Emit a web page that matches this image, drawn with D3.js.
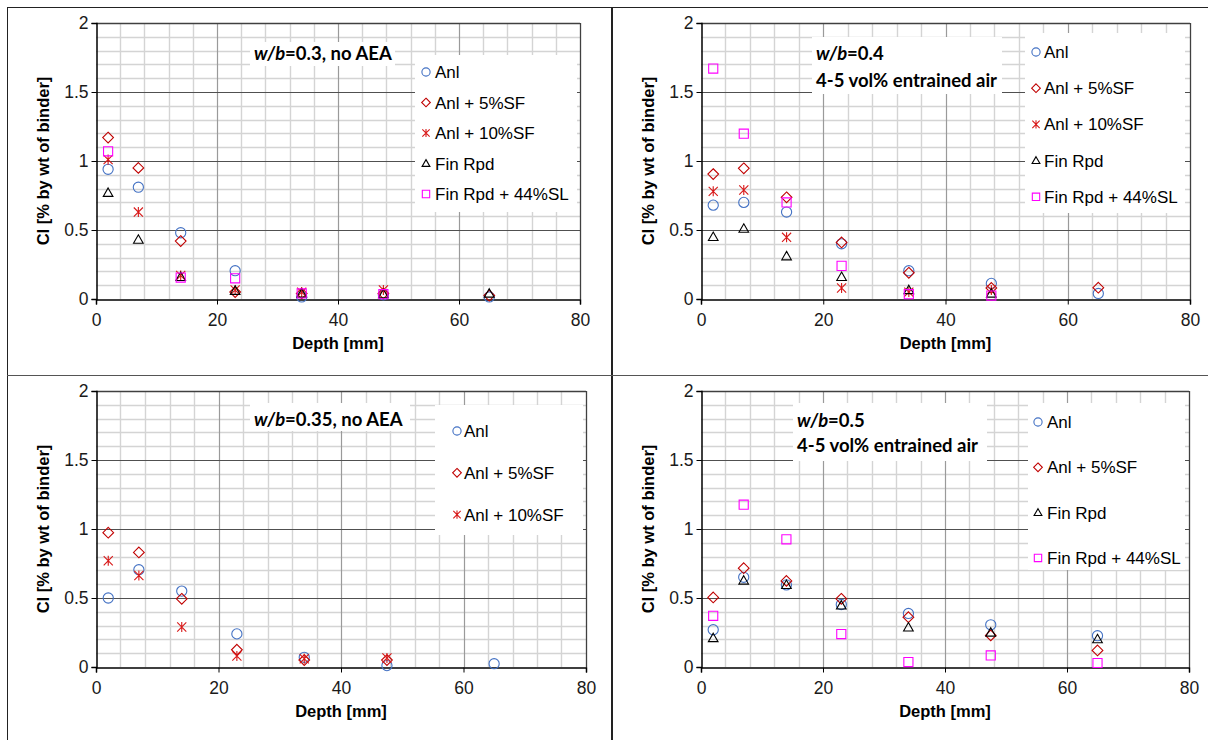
<!DOCTYPE html>
<html>
<head>
<meta charset="utf-8">
<script src="https://cdn.jsdelivr.net/npm/d3@7"></script>
<style>
  body { margin: 0; background: #fff; }
  svg { display: block; }
  .tick text { font-family: "Liberation Sans", Arial, sans-serif; font-size: 17.5px; fill: #1a1a1a; }
  .axis-title { font-family: "Liberation Sans", Arial, sans-serif; font-size: 16.5px; font-weight: bold; fill: #000; }
  .legend text { font-family: "Liberation Sans", Arial, sans-serif; font-size: 17px; fill: #000; }
  .note { font-family: Lato, "Open Sans", sans-serif; font-size: 18.5px; font-weight: bold; fill: #000; }
</style>
</head>
<body>
<svg id="chart" width="1208" height="740"></svg>
<script>
// depths (mm) shared by every panel
const depth = [2, 7, 14, 23, 34, 47.5, 65];
const seriesNames = ["Anl", "Anl + 5%SF", "Anl + 10%SF", "Fin Rpd", "Fin Rpd + 44%SL"];
const xTicks = [0, 20, 40, 60, 80];
const yTicks = [0, 0.5, 1, 1.5, 2];
const yTickLabels = ["0", "0.5", "1", "1.5", "2"];

// w/b=0.3, no AEA
const wb03Anl    = [0.94, 0.81, 0.48, 0.205, 0.015, 0.03, 0.015];
const wb03Sf5    = [1.17, 0.95, 0.42, 0.05, 0.04, 0.04, 0.025];
const wb03Sf10   = [1.01, 0.63, 0.17, 0.065, 0.05, 0.065, null];
const wb03Fin    = [0.77, 0.43, 0.16, 0.06, 0.04, 0.035, 0.04];
const wb03FinSl  = [1.07, null, 0.155, 0.15, 0.04, 0.035, null];

// w/b=0.4, 4-5 vol% entrained air
const wb04Anl    = [0.68, 0.70, 0.63, 0.40, 0.205, 0.113, 0.04];
const wb04Sf5    = [0.905, 0.947, 0.737, 0.41, 0.19, 0.08, 0.082];
const wb04Sf10   = [0.78, 0.79, 0.447, 0.08, 0.05, 0.065, null];
const wb04Fin    = [0.45, 0.51, 0.31, 0.16, 0.065, 0.04, null];
const wb04FinSl  = [1.67, 1.198, 0.70, 0.24, 0.035, 0.025, null];

// w/b=0.35, no AEA
const wb035Anl   = [0.50, 0.705, 0.55, 0.24, 0.07, 0.01, 0.024];
const wb035Sf5   = [0.973, 0.83, 0.494, 0.125, 0.05, 0.05, null];
const wb035Sf10  = [0.77, 0.663, 0.29, 0.08, 0.06, 0.065, null];

// w/b=0.5, 4-5 vol% entrained air
const wb05Anl    = [0.27, 0.65, 0.595, 0.453, 0.388, 0.306, 0.227];
const wb05Sf5    = [0.504, 0.716, 0.624, 0.494, 0.361, 0.229, 0.12];
const wb05Fin    = [0.21, 0.627, 0.595, 0.446, 0.287, 0.25, 0.202];
const wb05FinSl  = [0.371, 1.176, 0.925, 0.239, 0.036, 0.084, 0.029];

// marker shapes (excel-like)
const diamond = { draw(c, s) { const r = Math.sqrt(s) / 2; c.moveTo(0, -r); c.lineTo(r, 0); c.lineTo(0, r); c.lineTo(-r, 0); c.closePath(); } };
const square = { draw(c, s) { const r = Math.sqrt(s) / 2 * 0.85; c.rect(-r, -r, 2 * r, 2 * r); } };
const triangle = { draw(c, s) { const r = Math.sqrt(s) / 2 * 0.9; c.moveTo(0, -r); c.lineTo(r, r * 0.75); c.lineTo(-r, r * 0.75); c.closePath(); } };
const asterisk = { draw(c, s) { const r = Math.sqrt(s) / 2 * 0.85; c.moveTo(-r, -r); c.lineTo(r, r); c.moveTo(r, -r); c.lineTo(-r, r); c.moveTo(0, -r * 1.1); c.lineTo(0, r * 1.1); } };
const circle = { draw(c, s) { const r = Math.sqrt(s) / 2 * 0.95; c.moveTo(r, 0); c.arc(0, 0, r, 0, 2 * Math.PI); } };

const styles = {
  "Anl": { type: circle, color: "#4472C4" },
  "Anl + 5%SF": { type: diamond, color: "#C00000" },
  "Anl + 10%SF": { type: asterisk, color: "#D81818" },
  "Fin Rpd": { type: triangle, color: "#000000" },
  "Fin Rpd + 44%SL": { type: square, color: "#FF00FF" }
};

const svg = d3.select("#chart");

// table borders
const border = svg.append("g").attr("stroke", "#222").attr("fill", "none");
border.append("line").attr("x1", 7).attr("x2", 1208).attr("y1", 7.5).attr("y2", 7.5);
border.append("line").attr("x1", 7.5).attr("x2", 7.5).attr("y1", 7).attr("y2", 740);
border.append("line").attr("x1", 612).attr("x2", 612).attr("y1", 7).attr("y2", 740).attr("stroke-width", 2);
border.append("line").attr("x1", 7).attr("x2", 1208).attr("y1", 375.5).attr("y2", 375.5).attr("stroke", "#555");

function drawPanel(p) {
  const x = d3.scaleLinear().domain([0, 80]).range([p.left, p.right]);
  const y = d3.scaleLinear().domain([0, 2]).range([p.bottom, p.top]);
  const g = svg.append("g");

  // minor grid
  const grid = g.append("g").attr("fill", "none");
  d3.range(4, 80, 4).filter(v => v % 20 !== 0).forEach(v => {
    grid.append("line").attr("x1", Math.round(x(v)) + 0.5).attr("x2", Math.round(x(v)) + 0.5)
      .attr("y1", p.top).attr("y2", p.bottom).attr("stroke", "#D4D4D4").attr("stroke-width", 1.4);
  });
  d3.range(1, 20).filter(i => i % 5 !== 0).forEach(i => {
    const yy = Math.round(y(i / 10)) + 0.5;
    grid.append("line").attr("x1", p.left).attr("x2", p.right).attr("y1", yy).attr("y2", yy)
      .attr("stroke", "#D4D4D4").attr("stroke-width", 1.4);
  });
  // major grid
  [20, 40, 60].forEach(v => {
    grid.append("line").attr("x1", Math.round(x(v)) + 0.5).attr("x2", Math.round(x(v)) + 0.5)
      .attr("y1", p.top).attr("y2", p.bottom).attr("stroke", "#9A9A9A").attr("stroke-width", 1.2);
  });
  [0.5, 1, 1.5].forEach(v => {
    const yy = Math.round(y(v)) + 0.5;
    grid.append("line").attr("x1", p.left).attr("x2", p.right).attr("y1", yy).attr("y2", yy)
      .attr("stroke", "#505050").attr("stroke-width", 1.2);
  });
  grid.append("line").attr("x1", p.left).attr("x2", p.right).attr("y1", p.top + 0.5).attr("y2", p.top + 0.5).attr("stroke", "#404040").attr("stroke-width", 1.3);
  grid.append("line").attr("x1", p.right + 0.5).attr("x2", p.right + 0.5).attr("y1", p.top).attr("y2", p.bottom).attr("stroke", "#404040").attr("stroke-width", 1.3);

  // annotation box
  const note = g.append("g");
  note.append("rect").attr("x", p.note.x).attr("y", p.note.y).attr("width", p.note.w).attr("height", p.note.h).attr("fill", "#fff");
  p.note.lines.forEach((ln, i) => {
    const t = note.append("text").attr("class", "note").attr("x", p.note.tx).attr("y", p.note.ty[i]);
    ln.forEach(part => t.append("tspan").attr("font-style", part.it ? "italic" : "normal").text(part.t));
  });

  // legend box
  const leg = g.append("g").attr("class", "legend");
  leg.append("rect").attr("x", p.legend.x).attr("y", p.legend.y).attr("width", p.legend.w).attr("height", p.legend.h).attr("fill", "#fff");

  // axes
  const xAxis = g.append("g").attr("transform", `translate(0,${p.bottom + 0.5})`)
    .call(d3.axisBottom(x).tickValues(xTicks).tickSize(5).tickPadding(7));
  const yAxis = g.append("g").attr("transform", `translate(${p.left + 0.5},0)`)
    .call(d3.axisLeft(y).tickValues(yTicks).tickSize(5).tickPadding(3).tickFormat((d, i) => yTickLabels[i]));
  [xAxis, yAxis].forEach(a => {
    a.select(".domain").attr("stroke", "#000").attr("stroke-width", 1.5);
    a.selectAll(".tick line").attr("stroke", "#000");
  });
  xAxis.selectAll(".tick text").attr("dy", "0.85em");

  g.append("text").attr("class", "axis-title").attr("text-anchor", "middle")
    .attr("x", (p.left + p.right) / 2).attr("y", p.bottom + 50).text("Depth [mm]");
  g.append("text").attr("class", "axis-title").attr("text-anchor", "middle")
    .attr("transform", `translate(${p.left - 47},${(p.top + p.bottom) / 2}) rotate(-90)`)
    .text("Cl [% by wt of binder]");

  // points
  p.series.forEach(s => {
    const st = styles[s.name];
    const sym = d3.symbol().type(st.type).size(115);
    g.append("g").selectAll("path")
      .data(depth.map((d, i) => ({ d, v: s.values[i] })).filter(o => o.v !== null))
      .join("path")
      .attr("d", sym)
      .attr("transform", o => `translate(${x(o.d)},${y(o.v)})`)
      .attr("fill", "none").attr("stroke", st.color).attr("stroke-width", 1.1);
  });

  // legend entries
  p.series.forEach((s, i) => {
    const st = styles[s.name];
    const cy = p.legend.cy0 + i * p.legend.step;
    leg.append("path").attr("d", d3.symbol().type(st.type).size(75))
      .attr("transform", `translate(${p.legend.mx},${cy})`)
      .attr("fill", "none").attr("stroke", st.color).attr("stroke-width", 1.1);
    leg.append("text").attr("x", p.legend.tx).attr("y", cy + 6).text(s.name);
  });
}

const wbLine = v => [{ t: "w/b", it: true }, { t: v, it: false }];

drawPanel({
  left: 96, right: 580, top: 23, bottom: 299,
  series: [
    { name: seriesNames[0], values: wb03Anl },
    { name: seriesNames[1], values: wb03Sf5 },
    { name: seriesNames[2], values: wb03Sf10 },
    { name: seriesNames[3], values: wb03Fin },
    { name: seriesNames[4], values: wb03FinSl }
  ],
  note: { x: 250, y: 42, w: 145, h: 24, tx: 254, ty: [60], lines: [wbLine("=0.3, no AEA")] },
  legend: { x: 415, y: 55, w: 162, h: 157, mx: 426, tx: 435, cy0: 72, step: 30.5 }
});

drawPanel({
  left: 701, right: 1190, top: 23, bottom: 299,
  series: [
    { name: seriesNames[0], values: wb04Anl },
    { name: seriesNames[1], values: wb04Sf5 },
    { name: seriesNames[2], values: wb04Sf10 },
    { name: seriesNames[3], values: wb04Fin },
    { name: seriesNames[4], values: wb04FinSl }
  ],
  note: { x: 812, y: 37, w: 190, h: 57, tx: 816, ty: [60, 87], lines: [wbLine("=0.4"), [{ t: "4-5 vol% entrained air", it: false }]] },
  legend: { x: 1025, y: 33, w: 160, h: 180, mx: 1036, tx: 1044, cy0: 52, step: 36.2 }
});

drawPanel({
  left: 96, right: 586, top: 391, bottom: 667,
  series: [
    { name: seriesNames[0], values: wb035Anl },
    { name: seriesNames[1], values: wb035Sf5 },
    { name: seriesNames[2], values: wb035Sf10 }
  ],
  note: { x: 250, y: 403, w: 160, h: 28, tx: 254, ty: [426], lines: [wbLine("=0.35, no AEA")] },
  legend: { x: 435, y: 405, w: 148, h: 130, mx: 457, tx: 464, cy0: 431, step: 41.8 }
});

drawPanel({
  left: 701, right: 1189, top: 391, bottom: 667,
  series: [
    { name: seriesNames[0], values: wb05Anl },
    { name: seriesNames[1], values: wb05Sf5 },
    { name: seriesNames[3], values: wb05Fin },
    { name: seriesNames[4], values: wb05FinSl }
  ],
  note: { x: 793, y: 403, w: 194, h: 58, tx: 797, ty: [427, 452], lines: [wbLine("=0.5"), [{ t: "4-5 vol% entrained air", it: false }]] },
  legend: { x: 1028, y: 403, w: 157, h: 167, mx: 1038, tx: 1047, cy0: 422, step: 45.3 }
});
</script>
</body>
</html>
